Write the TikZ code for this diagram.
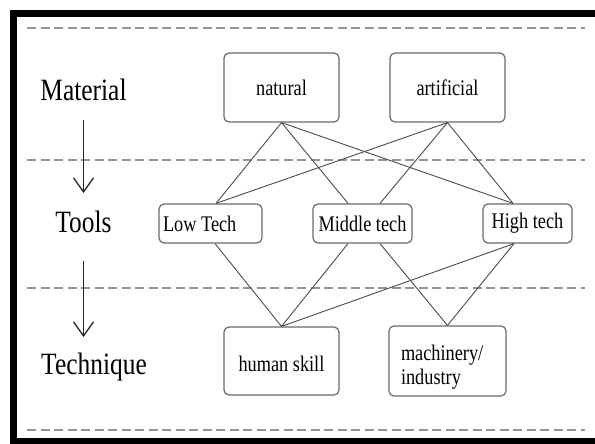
\documentclass[tikz,border=0pt]{standalone}
\usepackage{fontspec}
\setmainfont{Liberation Serif}[FakeStretch=0.82]
\usetikzlibrary{arrows.meta,calc}
\begin{document}
\begin{tikzpicture}[x=1pt,y=-1pt,
  layer/.style={font=\fontsize{31}{31}\selectfont, text=black, anchor=base, inner sep=0pt},
  item/.style={draw=black!58, line width=1.2pt, rounded corners=5pt, inner sep=3pt,
    font=\fontsize{22.3}{24}\selectfont, text=black},
  link/.style={draw=black!70, line width=0.9pt},
  flow/.style={draw=black!85, line width=1.3pt,
    -{Straight Barb[length=14pt,width=20pt,line width=1.3pt]}},
  divider/.style={draw=black!42, line width=1.6pt, dash pattern=on 9pt off 4.5pt}]
\clip (0,0) rectangle (595,444);
\fill[white] (0,0) rectangle (595,444);
% frame
\draw[line width=7pt] (13.5,13.5) rectangle (620,441.5);
% level separators
\foreach \y in {28,160,288,430} \draw[divider] (27,\y) -- (585,\y);

% level labels
\node[layer] (material) at (83.5,100.7) {Material};
\node[layer] (tools) at (83.5,232) {Tools};
\node[layer] (technique) at (94,374) {Technique};
\draw[flow] ([yshift=-19pt]material.base) -- ([yshift=39pt]tools.base);
\draw[flow] ([yshift=-29pt]tools.base) -- ($(tools.base |- technique.base)+(0,-37)$);

% material
\node[item, minimum width=115pt, minimum height=69pt] (natural) at (281.5,87.5) {natural};
\node[item, minimum width=115pt, minimum height=69pt] (artificial) at (447.5,87.5) {artificial};
% tools
\node[item, minimum width=103pt, minimum height=39pt]
  (lowtech) at (210.5,223.5) {\makebox[95pt][l]{Low Tech}};
\node[item, minimum width=99pt, minimum height=39pt] (middle) at (362.5,223.5) {Middle tech};
\node[item, minimum width=89pt, minimum height=39pt] (high) at (527.5,223.5) {High tech};
% technique
\node[item, minimum width=115pt, minimum height=68pt] (human) at (281.5,361)
  {\raisebox{-3pt}[\height][\depth]{human skill}};
\node[item, minimum width=117pt, minimum height=70pt, inner xsep=12pt]
  (machinery) at (447.5,361)
  {\raisebox{-6pt}[\height][\depth]{\parbox[c]{93pt}{\raggedright machinery/\\industry}}};

% links material -> tools
\draw[link] (natural.south) -- ([xshift=5.5pt]lowtech.north);
\draw[link] (natural.south) -- ([xshift=-14.5pt]middle.north);
\draw[link] (natural.south) -- ([xshift=-14.5pt]high.north);
\draw[link] (artificial.south) -- ([xshift=5.5pt]lowtech.north);
\draw[link] (artificial.south) -- ([xshift=17.5pt]middle.north);
\draw[link] (artificial.south) -- ([xshift=-14.5pt]high.north);
% links tools -> technique
\draw[link] ([xshift=4.5pt]lowtech.south) -- (human.north);
\draw[link] ([xshift=-14.5pt]middle.south) -- (human.north);
\draw[link] ([xshift=-13.5pt]high.south) -- (human.north);
\draw[link] ([xshift=17.5pt]middle.south) -- (machinery.north);
\draw[link] ([xshift=-13.5pt]high.south) -- (machinery.north);
\end{tikzpicture}
\end{document}
